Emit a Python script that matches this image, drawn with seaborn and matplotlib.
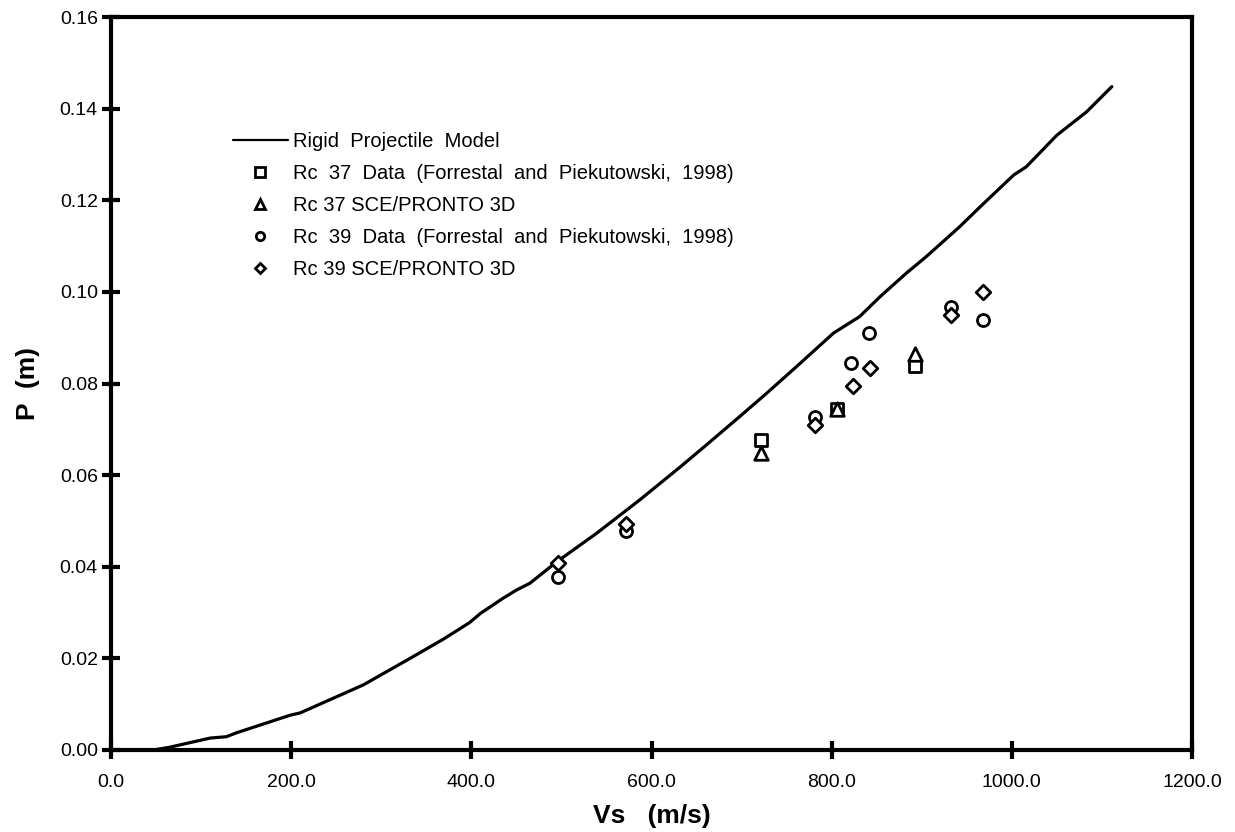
import numpy as np
import pandas as pd
import matplotlib
matplotlib.use("Agg")
import matplotlib.pyplot as plt
import seaborn as sns
from matplotlib.lines import Line2D
from matplotlib.legend_handler import HandlerLine2D

# ---- data ----
model_vs = [0, 47, 65, 110, 128, 140, 199, 210, 280, 332, 369, 398, 410, 435, 450,
            465, 495, 539, 587, 632, 661, 698, 728, 765, 802, 831, 854, 883, 905,
            942, 965, 1002, 1016, 1050, 1083, 1111]
model_p = [0.0, 0.0, 0.0006, 0.0026, 0.0029, 0.0038, 0.0076, 0.0081, 0.0142, 0.0200,
           0.0242, 0.0278, 0.0298, 0.0331, 0.0349, 0.0364, 0.0411, 0.0473, 0.0546,
           0.0618, 0.0666, 0.0728, 0.0779, 0.0844, 0.0910, 0.0946, 0.0990, 0.1041,
           0.1077, 0.1142, 0.1186, 0.1255, 0.1273, 0.1342, 0.1393, 0.1448]

rc37_data_vs = [721, 806, 893]
rc37_data_p = [0.0677, 0.0744, 0.0838]
rc37_sce_vs = [721, 806, 893]
rc37_sce_p = [0.0648, 0.0744, 0.0864]
rc39_data_vs = [496, 572, 781, 822, 841, 932, 968]
rc39_data_p = [0.0377, 0.0477, 0.0726, 0.0844, 0.0911, 0.0968, 0.0939]
rc39_sce_vs = [496, 572, 781, 824, 842, 932, 968]
rc39_sce_p = [0.0408, 0.0493, 0.0709, 0.0795, 0.0833, 0.0950, 0.0999]

labels = ["Rigid  Projectile  Model",
          "Rc  37  Data  (Forrestal  and  Piekutowski,  1998)",
          "Rc 37 SCE/PRONTO 3D",
          "Rc  39  Data  (Forrestal  and  Piekutowski,  1998)",
          "Rc 39 SCE/PRONTO 3D"]
x_ticks = [0, 200, 400, 600, 800, 1000, 1200]
y_ticks = [0.0, 0.02, 0.04, 0.06, 0.08, 0.10, 0.12, 0.14, 0.16]

# ---- style ----
sns.set_theme(style="white")
plt.rcParams['font.family'] = ['Liberation Sans', 'DejaVu Sans']
plt.rcParams['text.color'] = 'black'
plt.rcParams['axes.labelcolor'] = 'black'

fig = plt.figure(figsize=(12.35, 8.32), dpi=100)
ax = fig.add_axes([111/1235, 82/832, (1192-111)/1235, (750-17)/832])

model_df = pd.DataFrame({"Vs": model_vs, "P": model_p})
sns.lineplot(data=model_df, x="Vs", y="P", ax=ax, color="black", linewidth=2.3,
             estimator=None, sort=False)

series = [
    (rc37_data_vs, rc37_data_p, "s", 80),
    (rc37_sce_vs, rc37_sce_p, "^", 95),
    (rc39_data_vs, rc39_data_p, "o", 75),
    (rc39_sce_vs, rc39_sce_p, "D", 55),
]
for vs, p, m, s in series:
    df = pd.DataFrame({"Vs": vs, "P": p})
    sns.scatterplot(data=df, x="Vs", y="P", ax=ax, marker=m, s=s,
                    facecolor="white", edgecolor="black", linewidth=2.0, zorder=3)

ax.set_xlim(0, 1200)
ax.set_ylim(0, 0.16)
ax.set_xticks(x_ticks)
ax.set_xticklabels([f"{v:.1f}" for v in x_ticks])
ax.set_yticks(y_ticks)
ax.set_yticklabels([f"{v:.2f}" for v in y_ticks])
ax.tick_params(axis="both", which="major", direction="inout", length=13, width=3,
               color="black", labelsize=14, labelcolor="black",
               bottom=True, left=True, top=False, right=False)
ax.tick_params(axis="x", pad=10.5)
ax.tick_params(axis="y", pad=3)
for sp in ax.spines.values():
    sp.set_color("black")
    sp.set_linewidth(3)

ax.set_xlabel("Vs   (m/s)", fontsize=19, fontweight="bold", labelpad=10, color="black")
ax.set_ylabel("P  (m)", fontsize=19, fontweight="bold", labelpad=14, color="black")


class OffsetMarker(HandlerLine2D):
    def get_xdata(self, legend, xdescent, ydescent, width, height, fontsize):
        xdata = np.array([-xdescent, -xdescent + width])
        xm = np.array([-xdescent + 0.68 * width])
        return xdata, xm


handles = [Line2D([], [], color="black", linewidth=1.6)]
for m, ms in [("s", 6.5), ("^", 7), ("o", 6), ("D", 5.5)]:
    handles.append(Line2D([], [], linestyle="none", marker=m, markersize=ms,
                          markerfacecolor="white", markeredgecolor="black",
                          markeredgewidth=2.0))
hm = {h: OffsetMarker() for h in handles[1:]}
leg = ax.legend(handles, labels, loc="upper left", bbox_to_anchor=(0.113, 0.8425),
                frameon=False, fontsize=14.5, handlelength=2.7, handletextpad=0.25,
                labelspacing=0.64, borderpad=0, borderaxespad=0, handler_map=hm)
for t in leg.get_texts():
    t.set_color("black")

fig.savefig("out.png", dpi=100, facecolor="white")
